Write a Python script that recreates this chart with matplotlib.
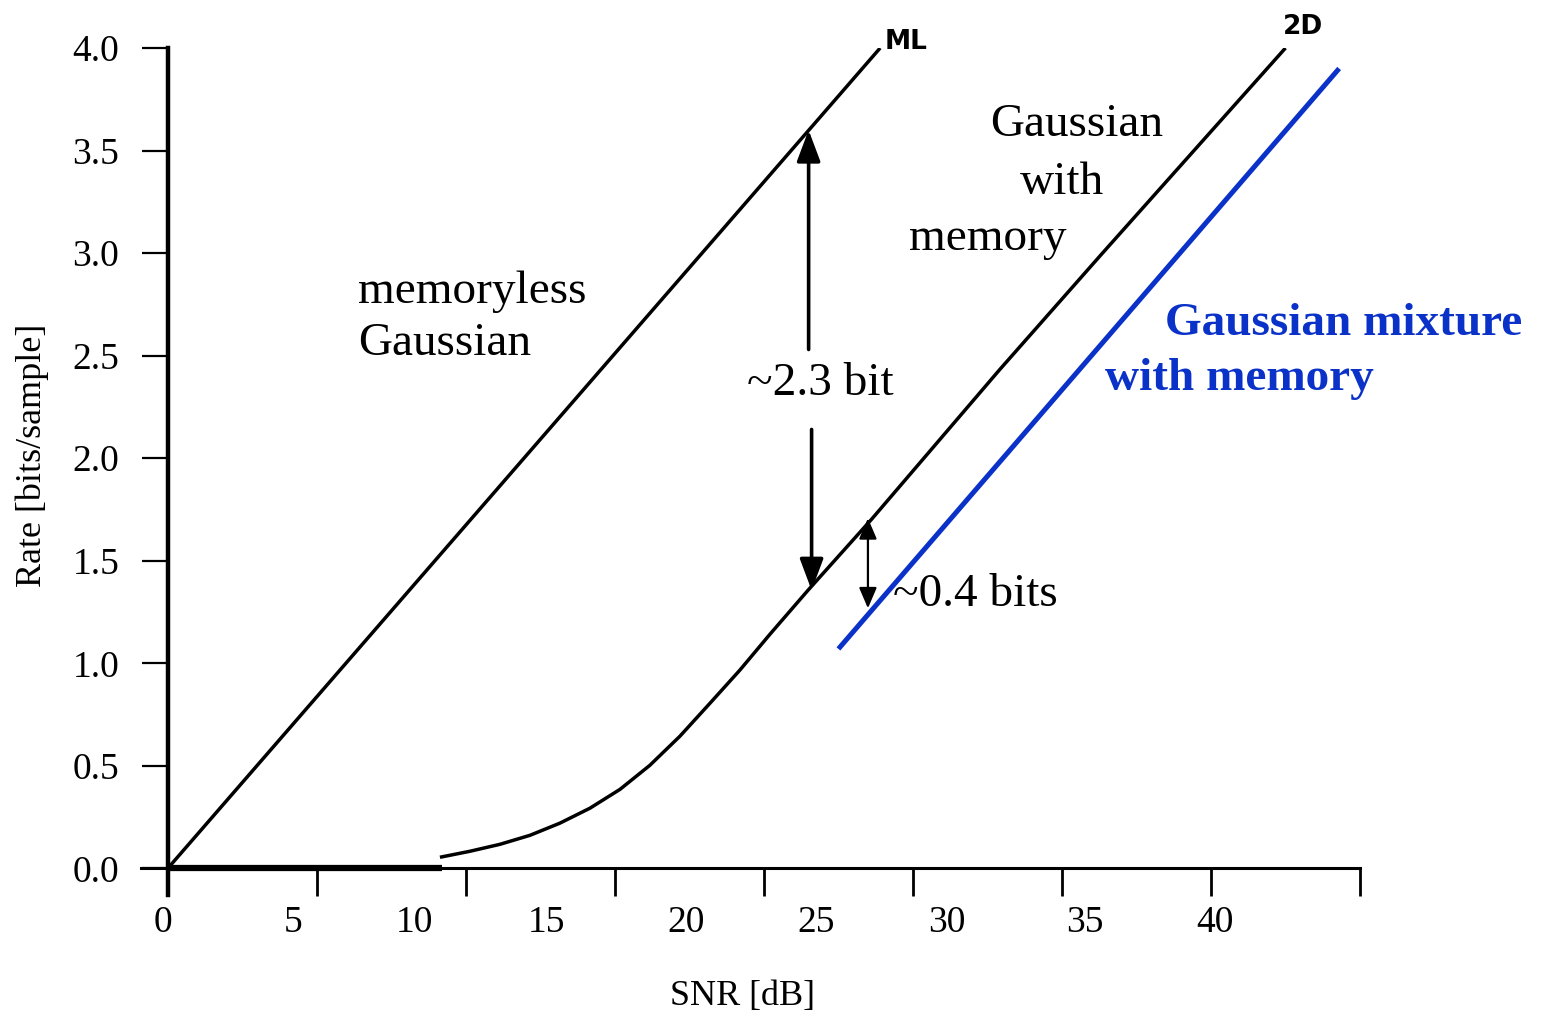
import matplotlib
matplotlib.use("Agg")
import matplotlib.pyplot as plt

# Data
mlSnr = [0.0, 23.9]
mlRate = [0.0, 4.0]

zeroSnr = [0.0, 9.2]
zeroRate = [0.0, 0.0]

twoDSnr = [9.13, 10.13, 11.14, 12.15, 13.15, 14.16, 15.17, 16.17, 17.18, 18.19, 19.19, 20.20,
           21.48, 23.6, 27.9, 31.3, 37.5]
twoDRate = [0.054, 0.083, 0.117, 0.161, 0.220, 0.293, 0.385, 0.502, 0.644, 0.805, 0.966, 1.141,
            1.356, 1.70, 2.43, 2.99, 4.0]

mixSnr = [22.5, 39.3]
mixRate = [1.07, 3.9]

xTicks = [0, 5, 10, 15, 20, 25, 30, 35, 40]
xLabelPos = [-0.17, 4.19, 8.29, 12.72, 17.38, 21.74, 26.14, 30.77, 35.13]
xLabels = ["0", "5", "10", "15", "20", "25", "30", "35", "40"]
yTicks = [0.0, 0.5, 1.0, 1.5, 2.0, 2.5, 3.0, 3.5, 4.0]
yLabels = ["0.0", "0.5", "1.0", "1.5", "2.0", "2.5", "3.0", "3.5", "4.0"]

blue = "#0a32c8"
serif = ["Liberation Serif", "DejaVu Serif"]

fig = plt.figure(figsize=(15.41, 10.16), dpi=100)
ax = fig.add_axes([141 / 1541, 1 - 895 / 1016, (1360 - 141) / 1541, (895 - 48) / 1016])
ax.set_xlim(-0.9, 40)
ax.set_ylim(-0.13, 4.0)

#Spines
ax.spines["top"].set_visible(False)
ax.spines["right"].set_visible(False)
ax.spines["left"].set_position(("data", 0))
ax.spines["bottom"].set_position(("data", 0))
ax.spines["left"].set_linewidth(3.2)
ax.spines["bottom"].set_linewidth(2.2)

#Ticks
ax.set_xticks(xTicks)
ax.set_xticklabels([])
ax.set_xticks(xLabelPos, xLabels, minor=True)
ax.tick_params(axis="x", which="major", direction="out", length=20, width=2)
ax.tick_params(axis="x", which="minor", length=0, pad=27, labelsize=27)
ax.set_yticks(yTicks, yLabels)
ax.tick_params(axis="y", direction="out", length=19, width=1.6, pad=16, labelsize=27)
for lab in ax.get_xticklabels(minor=True) + ax.get_yticklabels():
    lab.set_family(serif)

#Curves
ax.plot(mlSnr, mlRate, color="black", lw=2.5, solid_capstyle="butt")
ax.plot(zeroSnr, zeroRate, color="black", lw=4.5, solid_capstyle="butt")
ax.plot(twoDSnr, twoDRate, color="black", lw=2.5, solid_capstyle="butt")
ax.plot(mixSnr, mixRate, color=blue, lw=3.6, solid_capstyle="butt")

#Arrows
bigHead = dict(arrowstyle="-|>,head_length=0.8,head_width=0.3", color="black",
               lw=2.6, shrinkA=0, shrinkB=0, mutation_scale=24)
ax.annotate("", xy=(21.5, 3.6), xytext=(21.5, 2.53), arrowprops=bigHead)
ax.annotate("", xy=(21.6, 1.356), xytext=(21.6, 2.14), arrowprops=bigHead)
smallHead = dict(arrowstyle="<|-|>,head_length=0.7,head_width=0.3", color="black",
                 lw=1.6, shrinkA=0, shrinkB=0, mutation_scale=18)
ax.annotate("", xy=(23.49, 1.707), xytext=(23.49, 1.268), arrowprops=smallHead)

#Text labels
txt = dict(family=serif, fontsize=34, va="baseline", ha="left")
ax.text(6.38, 2.756, "memoryless", **txt)
ax.text(6.38, 2.502, "Gaussian", **txt)
ax.text(27.58, 3.57, "Gaussian", **txt)
ax.text(28.59, 3.29, "with", **txt)
ax.text(24.87, 3.015, "memory", **txt)
ax.text(19.43, 2.307, "~2.3 bit", **txt)
ax.text(24.33, 1.278, "~0.4 bits", **txt)
ax.text(33.46, 2.60, "Gaussian mixture", color=blue, fontweight="bold", **txt)
ax.text(31.44, 2.33, "with memory", color=blue, fontweight="bold", **txt)

ax.text(24.06, 4.03, "ML", family="DejaVu Sans", fontweight="bold", fontsize=19, va="center")
ax.text(37.42, 4.10, "2D", family="DejaVu Sans", fontweight="bold", fontsize=19, va="center")

fig.text(32 / 1541, 1 - 455 / 1016, "Rate [bits/sample]", family=serif, fontsize=26,
         rotation=90, ha="center", va="center")
fig.text(742 / 1541, 1 - 997 / 1016, "SNR [dB]", family=serif, fontsize=26,
         ha="center", va="center")

fig.savefig("out.png", dpi=100)
